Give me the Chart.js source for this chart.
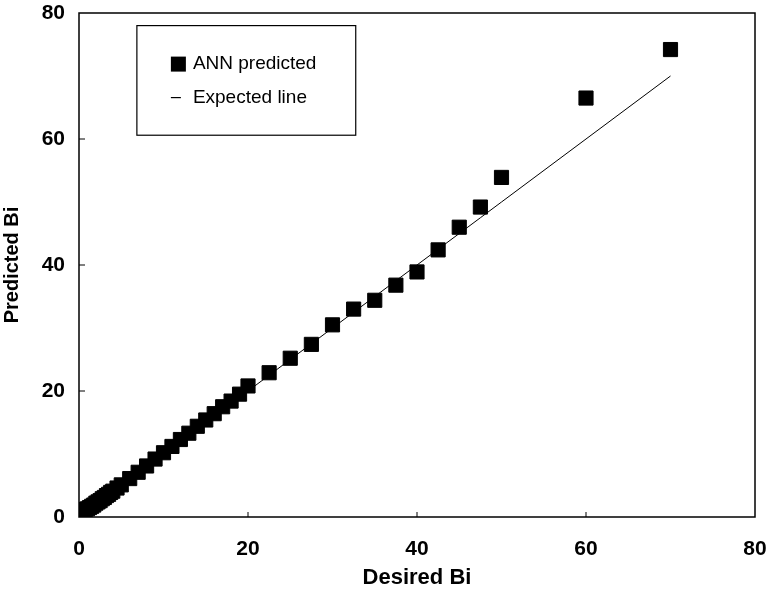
<!DOCTYPE html>
<html>
<head>
<meta charset="utf-8">
<script src="https://cdn.jsdelivr.net/npm/chart.js@4"></script>
<style>
  html, body { margin: 0; padding: 0; background: #fff; }
  #wrap { width: 771px; height: 591px; }
</style>
</head>
<body>
<div id="wrap"><canvas id="c" width="771" height="591"></canvas></div>
<script>
// Desired vs. ANN-predicted Biot numbers
const desiredBi = [0.5, 0.75, 1.0, 1.25, 1.5, 1.75, 2.0, 2.25, 2.5, 2.75, 3.0, 3.25, 3.5, 3.75, 4.0, 4.5,
  5, 6, 7, 8, 9, 10, 11, 12, 13, 14, 15, 16, 17, 18, 19, 20,
  22.5, 25, 27.5, 30, 32.5, 35, 37.5, 40, 42.5, 45, 47.5, 50, 60, 70];
const predictedBi = [1.1, 1.2, 1.3, 1.5, 1.7, 1.9, 2.2, 2.4, 2.6, 2.9, 3.1, 3.4, 3.6, 3.9, 4.1, 4.6,
  5.1, 6.1, 7.1, 8.1, 9.2, 10.2, 11.2, 12.3, 13.3, 14.4, 15.4, 16.4, 17.5, 18.4, 19.5, 20.8,
  22.9, 25.2, 27.4, 30.5, 33.0, 34.4, 36.8, 38.9, 42.4, 46.0, 49.2, 53.9, 66.5, 74.2];
const tickValues = [0, 20, 40, 60, 80];
const seriesNames = ['ANN predicted', 'Expected line'];

const FONT = '"Liberation Sans", Arial, sans-serif';

// frame, inward tick marks and boxed legend
const framePlugin = {
  id: 'frame',
  afterDraw(chart) {
    const { ctx, chartArea: a, scales } = chart;
    ctx.save();
    ctx.strokeStyle = '#000';
    ctx.lineWidth = 1.5;
    ctx.strokeRect(a.left, a.top, a.right - a.left, a.bottom - a.top);
    ctx.lineWidth = 1;
    ctx.beginPath();
    tickValues.slice(1, -1).forEach(v => {
      const px = scales.x.getPixelForValue(v);
      ctx.moveTo(px, a.bottom); ctx.lineTo(px, a.bottom - 5);
      const py = scales.y.getPixelForValue(v);
      ctx.moveTo(a.left, py); ctx.lineTo(a.left + 6, py);
    });
    ctx.stroke();

    // legend box
    const lx = scales.x.getPixelForValue(6.85), rx = scales.x.getPixelForValue(32.75);
    const ty = scales.y.getPixelForValue(78.0), by = scales.y.getPixelForValue(60.6);
    ctx.lineWidth = 1.2;
    ctx.strokeRect(lx, ty, rx - lx, by - ty);
    ctx.fillStyle = '#000';
    ctx.fillRect(lx + 34, ty + 31, 15, 15);
    ctx.beginPath();
    ctx.moveTo(lx + 34, ty + 72); ctx.lineTo(lx + 44, ty + 72);
    ctx.stroke();
    ctx.font = '19px ' + FONT;
    ctx.textBaseline = 'middle';
    ctx.fillText(seriesNames[0], lx + 56, ty + 38);
    ctx.fillText(seriesNames[1], lx + 56, ty + 72);
    ctx.restore();
  }
};

new Chart(document.getElementById('c'), {
  type: 'scatter',
  data: {
    datasets: [
      {
        label: seriesNames[0],
        data: desiredBi.map((d, i) => ({ x: d, y: predictedBi[i] })),
        pointStyle: 'rect',
        pointRadius: 10,
        borderWidth: 1,
        backgroundColor: '#000',
        borderColor: '#000',
        order: 1
      },
      {
        label: seriesNames[1],
        type: 'line',
        data: desiredBi.map(d => ({ x: d, y: d })),
        showLine: true,
        pointRadius: 0,
        borderColor: '#000',
        borderWidth: 1,
        fill: false,
        order: 2
      }
    ]
  },
  options: {
    responsive: false,
    animation: false,
    layout: { padding: { top: 13, right: 16, left: 0, bottom: 0 } },
    plugins: { legend: { display: false }, tooltip: { enabled: false } },
    scales: {
      x: {
        type: 'linear', min: 0, max: 80,
        afterBuildTicks(s) { s.ticks = tickValues.map(v => ({ value: v })); },
        afterFit(s) { s.height = 74; s.paddingLeft = 0; s.paddingRight = 0; },
        grid: { display: false, drawTicks: false },
        border: { display: false },
        ticks: { color: '#000', padding: 20, font: { family: FONT, size: 21, weight: 'bold' } },
        title: { display: true, text: 'Desired Bi', color: '#000', padding: { top: 2, bottom: 0 },
          font: { family: FONT, size: 22, weight: 'bold' } }
      },
      y: {
        type: 'linear', min: 0, max: 80,
        afterBuildTicks(s) { s.ticks = tickValues.map(v => ({ value: v })); },
        afterFit(s) { s.width = 79; s.paddingTop = 0; s.paddingBottom = 0; },
        grid: { display: false, drawTicks: false },
        border: { display: false },
        ticks: { color: '#000', padding: 14, font: { family: FONT, size: 21, weight: 'bold' } },
        title: { display: true, text: 'Predicted Bi', color: '#000', padding: { top: 0, bottom: 4 },
          font: { family: FONT, size: 20, weight: 'bold' } }
      }
    }
  },
  plugins: [framePlugin]
});
</script>
</body>
</html>
